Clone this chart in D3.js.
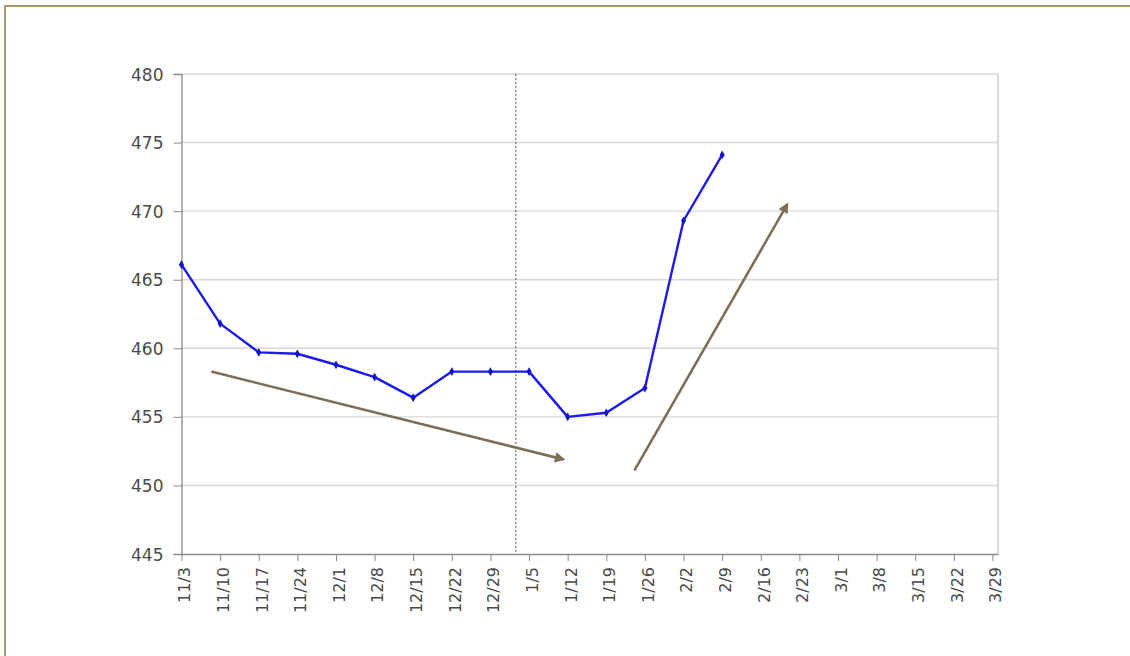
<!DOCTYPE html>
<html>
<head>
<meta charset="utf-8">
<script src="https://cdn.jsdelivr.net/npm/d3@7"></script>
<style>
  html, body { margin: 0; padding: 0; background: #fff; }
  svg { display: block; }
</style>
</head>
<body>
<svg id="chart" width="1130" height="656"></svg>
<script>
// Weekly category labels (one per week, starting 11/3)
const weekLabels = ["11/3","11/10","11/17","11/24","12/1","12/8","12/15","12/22","12/29",
  "1/5","1/12","1/19","1/26","2/2","2/9","2/16","2/23","3/1","3/8","3/15","3/22","3/29"];
// Weekly readings (first 15 weeks)
const weeklyValues = [466.1, 461.8, 459.7, 459.6, 458.8, 457.9, 456.4, 458.3, 458.3,
  458.3, 455.0, 455.3, 457.1, 469.3, 474.1];
// Y axis ticks
const yTicks = [445, 450, 455, 460, 465, 470, 475, 480];
// Year boundary marker, in days since 11/3
const yearBreakDay = [60.6];
// Trend arrows: [startDay, startValue, endDay, endValue]
const trendArrows = [
  [5.4, 458.3, 69.2, 451.9],
  [82.1, 451.1, 109.8, 470.5]
];

const svg = d3.select("#chart");
const font = "DejaVu Sans, Verdana, sans-serif";

// outer frame
svg.append("path")
  .attr("d", "M5,656 L5,6 L1130,6")
  .attr("fill", "none")
  .attr("stroke", "#a39a66")
  .attr("stroke-width", 2);

const x = d3.scaleLinear().domain([0, 148]).range([181.5, 998]);
const y = d3.scaleLinear().domain([445, 480]).range([554, 74]);

const g = svg.append("g");

// horizontal gridlines
g.selectAll("line.grid").data(yTicks.slice(1)).join("line")
  .attr("class", "grid")
  .attr("x1", x(0)).attr("x2", x(148))
  .attr("y1", d => y(d)).attr("y2", d => y(d))
  .attr("stroke", "#d8d8d8").attr("stroke-width", 1.4);

// right border of plot
g.append("line")
  .attr("x1", x(148)).attr("x2", x(148))
  .attr("y1", y(480)).attr("y2", y(445))
  .attr("stroke", "#c8c8c8").attr("stroke-width", 1.3);

// y axis
const yAxis = d3.axisLeft(y).tickValues(yTicks).tickSize(8).tickPadding(10).tickFormat(d3.format("d"));
const gy = g.append("g").attr("transform", `translate(${x(0)},0)`).call(yAxis);
gy.select(".domain").attr("stroke", "#8a8a8a").attr("stroke-width", 1.3);
gy.selectAll(".tick line").attr("stroke", "#8a8a8a");
gy.selectAll("text")
  .attr("fill", "#4a4a4a")
  .attr("dy", "0.36em")
  .style("font-family", font)
  .style("font-size", "17px");

// x axis (one tick per week)
const weekDays = weekLabels.map((_, i) => i * 7);
const xAxis = d3.axisBottom(x).tickValues(weekDays).tickSize(7).tickPadding(6)
  .tickFormat((d, i) => weekLabels[i]).tickSizeOuter(0);
const gx = g.append("g").attr("transform", `translate(0,${y(445)})`).call(xAxis);
gx.select(".domain").attr("stroke", "#8a8a8a").attr("stroke-width", 1.3);
gx.selectAll(".tick line").attr("stroke", "#8a8a8a");
gx.selectAll("text")
  .attr("fill", "#4a4a4a")
  .style("font-family", font)
  .style("font-size", "16px")
  .attr("transform", "rotate(-90)")
  .attr("text-anchor", "end")
  .attr("dy", "0.52em")
  .attr("x", -13)
  .attr("y", 0);

// year boundary
g.selectAll("line.yearbreak").data(yearBreakDay).join("line")
  .attr("class", "yearbreak")
  .attr("x1", d => x(d)).attr("x2", d => x(d))
  .attr("y1", y(480)).attr("y2", y(445))
  .attr("stroke", "#555").attr("stroke-width", 1)
  .attr("stroke-dasharray", "2,2");

// trend arrows
const defs = svg.append("defs");
defs.append("marker")
  .attr("id", "arrowhead")
  .attr("viewBox", "0 0 10 10")
  .attr("refX", 8).attr("refY", 5)
  .attr("markerWidth", 4.5).attr("markerHeight", 4)
  .attr("orient", "auto")
  .append("path")
  .attr("d", "M0,0 L10,5 L0,10 Z")
  .attr("fill", "#7d6e58");

g.selectAll("line.trend").data(trendArrows).join("line")
  .attr("class", "trend")
  .attr("x1", d => x(d[0])).attr("y1", d => y(d[1]))
  .attr("x2", d => x(d[2])).attr("y2", d => y(d[3]))
  .attr("stroke", "#7d6e58").attr("stroke-width", 2.6)
  .attr("marker-end", "url(#arrowhead)");

// data line
const pts = weeklyValues.map((v, i) => ({ day: i * 7, v }));
const line = d3.line().x(d => x(d.day)).y(d => y(d.v));
g.append("path")
  .datum(pts)
  .attr("d", line)
  .attr("fill", "none")
  .attr("stroke", "#1b1bf0")
  .attr("stroke-width", 2.4)
  .attr("stroke-linejoin", "round");

g.selectAll("path.pt").data(pts).join("path")
  .attr("class", "pt")
  .attr("d", d3.symbol(d3.symbolDiamond, 22))
  .attr("transform", d => `translate(${x(d.day)},${y(d.v)})`)
  .attr("fill", "#1212c8");
</script>
</body>
</html>
